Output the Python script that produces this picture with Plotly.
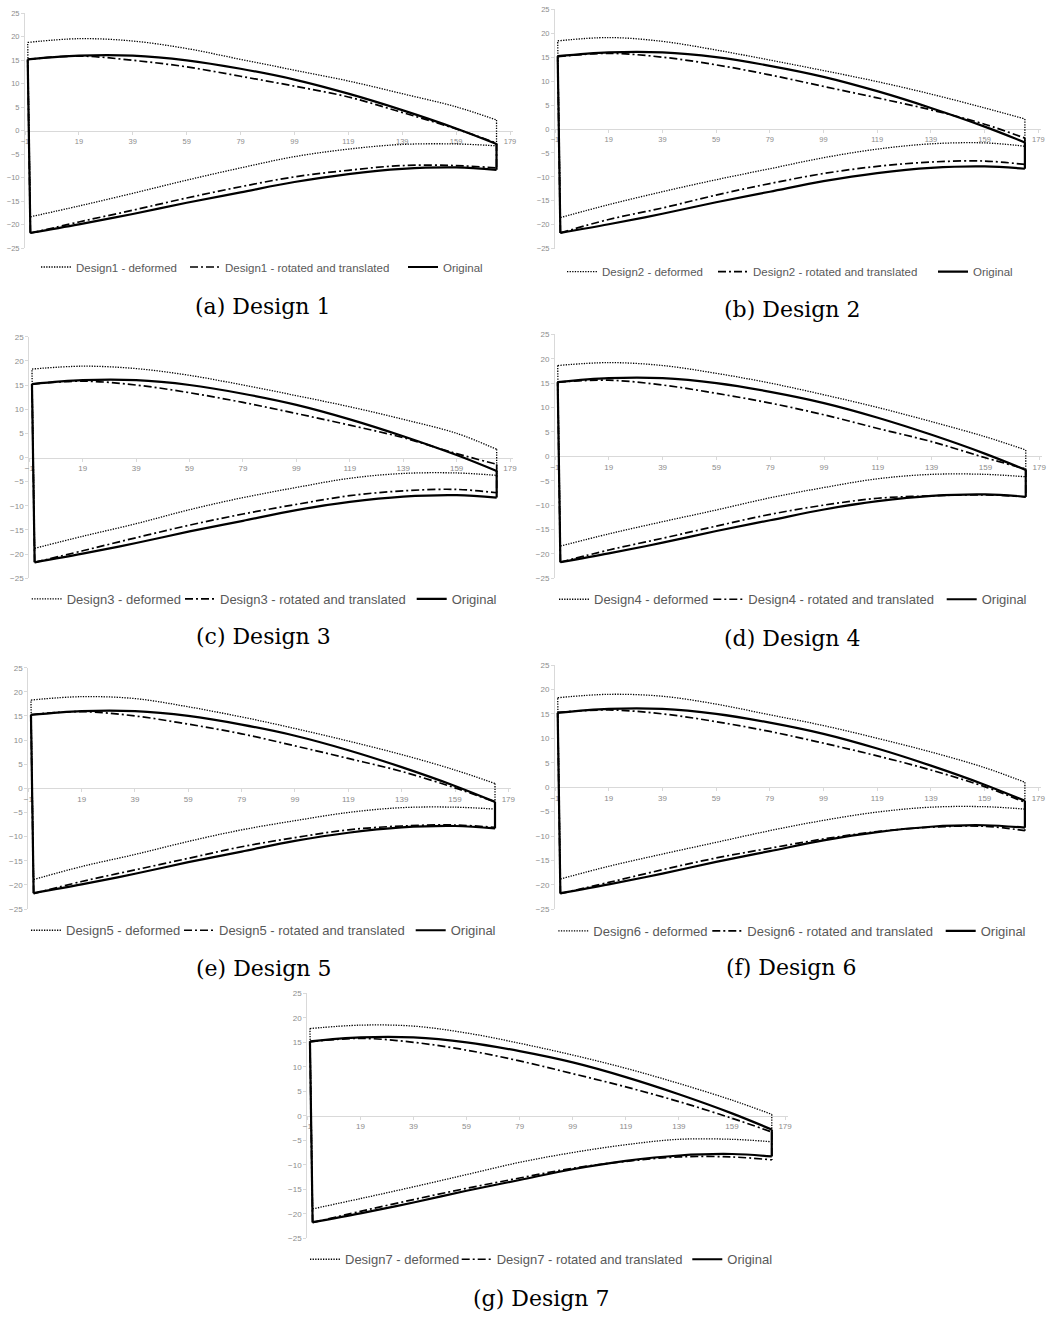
import plotly.graph_objects as go

# Chordwise stations of the profile (suction side starts at the leading edge x=0,
# pressure side at x=1); both end at the trailing edge.
X_UPPER = [0, 19, 39, 59, 79, 99, 119, 139, 159, 174]
X_LOWER = [1, 19, 39, 59, 79, 99, 119, 139, 159, 174]

# Original profile
ORIGINAL_UPPER = [15.2, 16.0, 16.0, 15.0, 13.2, 10.9, 7.9, 4.4, 0.5, -2.8]
ORIGINAL_LOWER = [-21.7, -19.9, -17.7, -15.3, -13.1, -10.9, -9.2, -8.1, -7.8, -8.3]

# Design 1
D1_DEF_UPPER = [18.8, 19.6, 19.1, 17.5, 15.2, 12.9, 10.6, 7.9, 5.1, 2.3]
D1_DEF_LOWER = [-18.3, -16.0, -13.3, -10.5, -7.9, -5.5, -3.9, -2.9, -2.8, -3.2]
D1_ROT_UPPER = [15.2, 15.9, 15.0, 13.6, 11.6, 9.5, 7.2, 3.9, 0.4, -2.6]
D1_ROT_LOWER = [-21.8, -19.4, -16.9, -14.3, -11.9, -9.8, -8.4, -7.4, -7.4, -7.9]

# Design 2
D2_DEF_UPPER = [18.4, 19.1, 18.3, 16.5, 14.4, 12.2, 9.9, 7.3, 4.4, 2.1]
D2_DEF_LOWER = [-18.5, -15.8, -13.1, -10.6, -8.3, -6.0, -4.2, -3.1, -2.9, -3.6]
D2_ROT_UPPER = [15.1, 15.8, 15.0, 13.4, 11.3, 8.9, 6.5, 4.0, 1.0, -1.9]
D2_ROT_LOWER = [-21.7, -18.9, -16.5, -13.8, -11.4, -9.3, -7.8, -6.9, -6.7, -7.4]

# Design 3
D3_DEF_UPPER = [18.3, 18.9, 18.4, 17.0, 15.0, 12.8, 10.5, 7.9, 5.0, 1.7]
D3_DEF_LOWER = [-18.8, -16.3, -13.7, -10.8, -8.3, -6.2, -4.3, -3.3, -3.2, -3.7]
D3_ROT_UPPER = [15.2, 15.8, 15.0, 13.4, 11.4, 9.1, 6.7, 4.1, 0.8, -1.4]
D3_ROT_LOWER = [-21.7, -19.3, -16.6, -14.0, -11.7, -9.7, -7.9, -6.9, -6.6, -7.3]

# Design 4
D4_DEF_UPPER = [18.6, 19.2, 18.6, 17.0, 15.0, 12.6, 10.0, 7.1, 4.0, 1.3]
D4_DEF_LOWER = [-18.4, -15.9, -13.4, -11.0, -8.5, -6.4, -4.6, -3.7, -3.7, -4.2]
D4_ROT_UPPER = [15.2, 15.6, 14.6, 12.9, 10.9, 8.5, 5.7, 3.0, -0.3, -2.6]
D4_ROT_LOWER = [-21.7, -19.2, -16.8, -14.3, -11.9, -10.0, -8.6, -8.1, -7.9, -8.3]

# Design 5
D5_DEF_UPPER = [18.3, 19.0, 18.6, 16.9, 14.8, 12.4, 9.8, 7.0, 3.8, 1.0]
D5_DEF_LOWER = [-18.9, -16.2, -13.7, -11.0, -8.6, -6.7, -5.0, -4.0, -3.9, -4.3]
D5_ROT_UPPER = [15.3, 15.9, 15.0, 13.3, 11.3, 8.8, 6.2, 3.5, 0.1, -2.8]
D5_ROT_LOWER = [-21.8, -19.3, -16.9, -14.5, -12.1, -10.2, -8.6, -7.8, -7.6, -8.1]

# Design 6
D6_DEF_UPPER = [18.3, 19.0, 18.6, 17.0, 14.8, 12.6, 10.0, 7.2, 4.0, 1.0]
D6_DEF_LOWER = [-18.8, -16.2, -13.7, -11.3, -8.9, -6.8, -5.1, -4.1, -4.0, -4.5]
D6_ROT_UPPER = [15.3, 15.8, 15.0, 13.4, 11.4, 9.0, 6.4, 3.5, 0.1, -3.1]
D6_ROT_LOWER = [-21.8, -19.5, -16.9, -14.5, -12.5, -10.6, -9.1, -8.2, -8.0, -8.9]

# Design 7
D7_DEF_UPPER = [17.8, 18.5, 18.3, 16.9, 14.8, 12.4, 9.7, 6.6, 3.2, 0.3]
D7_DEF_LOWER = [-19.0, -16.9, -14.5, -12.0, -9.5, -7.5, -5.9, -4.8, -4.8, -5.3]
D7_ROT_UPPER = [15.1, 15.8, 15.0, 13.4, 11.2, 8.6, 5.9, 2.9, -0.5, -3.3]
D7_ROT_LOWER = [-21.8, -19.5, -17.1, -14.8, -12.7, -10.7, -9.3, -8.4, -8.4, -9.0]

DESIGNS = [
    ("Design1", D1_DEF_UPPER, D1_DEF_LOWER, D1_ROT_UPPER, D1_ROT_LOWER),
    ("Design2", D2_DEF_UPPER, D2_DEF_LOWER, D2_ROT_UPPER, D2_ROT_LOWER),
    ("Design3", D3_DEF_UPPER, D3_DEF_LOWER, D3_ROT_UPPER, D3_ROT_LOWER),
    ("Design4", D4_DEF_UPPER, D4_DEF_LOWER, D4_ROT_UPPER, D4_ROT_LOWER),
    ("Design5", D5_DEF_UPPER, D5_DEF_LOWER, D5_ROT_UPPER, D5_ROT_LOWER),
    ("Design6", D6_DEF_UPPER, D6_DEF_LOWER, D6_ROT_UPPER, D6_ROT_LOWER),
    ("Design7", D7_DEF_UPPER, D7_DEF_LOWER, D7_ROT_UPPER, D7_ROT_LOWER),
]
CAPTIONS = ["(a) Design 1", "(b) Design 2", "(c) Design 3", "(d) Design 4",
            "(e) Design 5", "(f) Design 6", "(g) Design 7"]
X_TICKS = [-1, 19, 39, 59, 79, 99, 119, 139, 159, 179]
Y_TICKS = [-25, -20, -15, -10, -5, 0, 5, 10, 15, 20, 25]

W, H = 1049, 1318

# Panel geometry in pixels: plot box (left, right, top, bottom), legend text
# starts, legend row centre, caption centre, font scale
PANELS = [
    dict(box=(25, 512.7, 13.3, 248.3), leg=(76, 225, 443), ly=267, cap=(263, 307), big=False),
    dict(box=(555, 1041, 9.3, 248.7), leg=(602, 753, 973), ly=271.7, cap=(791.7, 310), big=False),
    dict(box=(29.3, 512.7, 336.7, 578.3), leg=(66.7, 220, 451.7), ly=599, cap=(263.3, 636.7), big=True),
    dict(box=(555, 1041.9, 334.3, 578.3), leg=(594, 748.3, 981.7), ly=599.3, cap=(791.7, 638), big=True),
    dict(box=(28.3, 511, 667.7, 909), leg=(66, 219, 450.7), ly=930.3, cap=(263, 968), big=True),
    dict(box=(555, 1041, 665, 909.3), leg=(593.3, 747.3, 980.7), ly=931, cap=(791, 967), big=True),
    dict(box=(307.3, 787.7, 993.3, 1238.3), leg=(345, 496.7, 727.3), ly=1259.3, cap=(541, 1298), big=True),
]


def outline(upper, lower):
    """Closed profile: suction side, trailing edge, pressure side, leading edge."""
    xs = (X_UPPER + [None] + [X_UPPER[-1], X_LOWER[-1]] + [None]
          + X_LOWER + [None] + [X_LOWER[0], X_UPPER[0]])
    ys = (upper + [None] + [upper[-1], lower[-1]] + [None]
          + lower + [None] + [lower[0], upper[0]])
    return xs, ys


GRID = "#d9d9d9"
TICK_COL = "#8c8c8c"
LEG_COL = "#595959"
SANS = "Liberation Sans"
ITEM_GAP = 5      # spacing plotly inserts between horizontal legend entries
SAMPLE_W = 40     # legend symbol + gap before the entry text

fig = go.Figure()
layout = dict(
    template="none",
    width=W, height=H, margin=dict(l=0, r=0, t=0, b=0, autoexpand=False),
    paper_bgcolor="white", plot_bgcolor="white", showlegend=True,
    annotations=[],
)

for i, ((name, def_up, def_lo, rot_up, rot_lo), panel) in enumerate(zip(DESIGNS, PANELS)):
    k = i + 1
    sfx = "" if k == 1 else str(k)
    xa, ya = "x" + sfx, "y" + sfx
    leg = "legend" + sfx
    left, right, top, bottom = panel["box"]
    t0, t1, t2 = panel["leg"]
    tick_size = 8 if panel["big"] else 7.5
    leg_size = 13 if panel["big"] else 11.5

    series = [
        (f"{name} - deformed", def_up, def_lo,
         dict(color="black", width=1.3, dash="1.3px,1.3px"), t1 - t0 - SAMPLE_W - ITEM_GAP),
        (f"{name} - rotated and translated", rot_up, rot_lo,
         dict(color="black", width=1.7, dash="8px,3px,2px,3px"), t2 - t1 - SAMPLE_W - ITEM_GAP),
        ("Original", ORIGINAL_UPPER, ORIGINAL_LOWER,
         dict(color="black", width=2.2), 60),
    ]
    for label, up, lo, line, lw in series:
        xs, ys = outline(up, lo)
        fig.add_trace(go.Scatter(
            x=xs, y=ys, mode="lines", name=label,
            line=dict(shape="spline", smoothing=1, **line),
            xaxis=xa, yaxis=ya, legend=leg, legendwidth=lw, hoverinfo="skip",
        ))

    y_zero_px = (top + bottom) / 2
    axis_common = dict(
        showline=True, linecolor=GRID, linewidth=1,
        ticks="outside", ticklen=3, tickcolor=GRID,
        showgrid=False, zeroline=False, layer="below traces", automargin=False,
        tickfont=dict(family=SANS, size=tick_size, color=TICK_COL),
    )
    layout["xaxis" + sfx] = dict(
        domain=[left / W, right / W], range=[-1, 180],
        anchor="free", position=1 - y_zero_px / H,
        tickmode="array", tickvals=X_TICKS, **axis_common,
    )
    layout["yaxis" + sfx] = dict(
        domain=[1 - bottom / H, 1 - top / H], range=[-25, 25],
        anchor=xa, tickmode="array", tickvals=Y_TICKS, **axis_common,
    )
    layout[leg] = dict(
        orientation="h", x=(t0 - SAMPLE_W) / W, xanchor="left",
        y=1 - panel["ly"] / H, yanchor="middle",
        font=dict(family=SANS, size=leg_size, color=LEG_COL),
        bgcolor="rgba(0,0,0,0)", borderwidth=0, itemclick=False,
    )
    cx, cy = panel["cap"]
    layout["annotations"].append(dict(
        text=CAPTIONS[i], x=cx / W, y=1 - cy / H, xref="paper", yref="paper",
        xanchor="center", yanchor="middle", showarrow=False,
        font=dict(family="DejaVu Serif", size=22, color="black"),
    ))

fig.update_layout(**layout)
fig.write_html("out.html")
